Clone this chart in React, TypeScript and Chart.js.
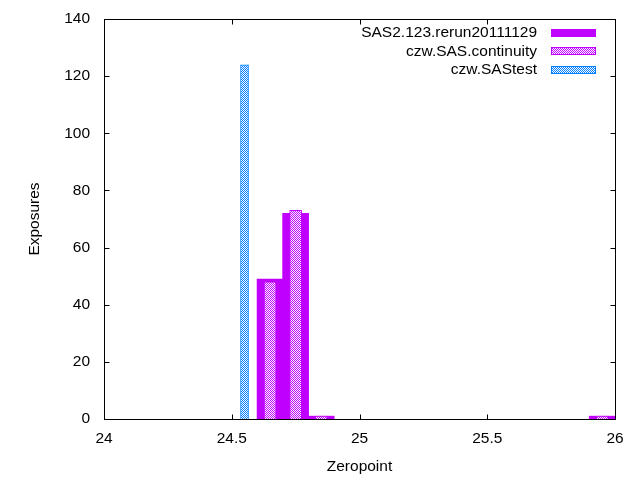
import React, { useEffect, useRef } from 'react';
import { Chart, registerables } from 'chart.js';

Chart.register(...registerables);

// histogram bins (bin centres) and counts
const rerunBins = [24.65, 24.75, 24.85, 25.95];
const rerunCounts = [49, 72, 1, 1];
const continuityBins = [24.65, 24.75, 24.85, 25.95];
const continuityCounts = [48, 73, 1, 1];
const testBins = [24.55];
const testCounts = [124];

const seriesLabels = ['SAS2.123.rerun20111129', 'czw.SAS.continuity', 'czw.SAStest'];
const xTicks = [24, 24.5, 25, 25.5, 26];
const yTicks = [0, 20, 40, 60, 80, 100, 120, 140];

const PURPLE = '#c000ff';
const BLUE = '#0080ff';
const FONT = '"Liberation Sans", Arial, sans-serif';

function makePattern(color: string): CanvasPattern {
	const c = document.createElement('canvas');
	c.width = 4;
	c.height = 4;
	const ctx = c.getContext('2d')!;
	ctx.fillStyle = '#ffffff';
	ctx.fillRect(0, 0, 4, 4);
	ctx.fillStyle = color;
	for (let y = 0; y < 4; y++) {
		for (let x = 0; x < 4; x++) {
			if ((x + y) % 2 === 0) ctx.fillRect(x, y, 1, 1);
		}
	}
	return ctx.createPattern(c, 'repeat')!;
}

// gnuplot style box with inward mirrored ticks, and a key inside the top right corner
const gnuplotFrame = {
	id: 'gnuplotFrame',
	afterDraw(chart: any) {
		const { ctx, chartArea: a, scales } = chart;
		const L = a.left + 0.5;
		const R = a.right + 0.5;
		const T = a.top + 0.5;
		const B = a.bottom + 0.5;
		const tick = 5;
		ctx.save();
		ctx.strokeStyle = '#000';
		ctx.lineWidth = 1;
		ctx.beginPath();
		for (const v of xTicks) {
			const px = Math.round(scales.x.getPixelForValue(v)) + 0.5;
			ctx.moveTo(px, B);
			ctx.lineTo(px, B - tick);
			ctx.moveTo(px, T);
			ctx.lineTo(px, T + tick);
		}
		for (const v of yTicks) {
			const py = Math.round(scales.y.getPixelForValue(v)) + 0.5;
			ctx.moveTo(L, py);
			ctx.lineTo(L + tick, py);
			ctx.moveTo(R, py);
			ctx.lineTo(R - tick, py);
		}
		ctx.stroke();
		ctx.strokeRect(L, T, R - L, B - T);

		// key
		ctx.font = '15.5px ' + FONT;
		ctx.textAlign = 'right';
		ctx.textBaseline = 'middle';
		chart.data.datasets.forEach((ds: any, i: number) => {
			const cy = 32.5 + i * 18.8;
			ctx.fillStyle = '#000';
			ctx.fillText(ds.label, 537, cy);
			ctx.fillStyle = ds.backgroundColor;
			ctx.fillRect(551, Math.round(cy - 4), 45, 8);
			if (ds.borderWidth) {
				ctx.strokeStyle = ds.borderColor;
				ctx.strokeRect(551.5, Math.round(cy - 4) + 0.5, 44, 7);
			}
		});
		ctx.restore();
	},
};

export default function App() {
	const canvasRef = useRef<HTMLCanvasElement>(null);
	const chartRef = useRef<Chart | null>(null);

	useEffect(() => {
		if (!canvasRef.current) return;
		document.body.style.margin = '0';

		if (chartRef.current) {
			chartRef.current.destroy();
		}

		const toPoints = (xs: number[], ys: number[]) => xs.map((x, i) => ({ x, y: ys[i] }));

		chartRef.current = new Chart(canvasRef.current, {
			type: 'bar',
			data: {
				datasets: [
					{
						label: seriesLabels[0],
						data: toPoints(rerunBins, rerunCounts),
						backgroundColor: PURPLE,
						borderWidth: 0,
						barThickness: 26,
						grouped: false,
						order: 2,
					},
					{
						label: seriesLabels[1],
						data: toPoints(continuityBins, continuityCounts),
						backgroundColor: makePattern(PURPLE),
						borderColor: PURPLE,
						borderWidth: 1,
						barThickness: 12,
						grouped: false,
						order: 1,
					},
					{
						label: seriesLabels[2],
						data: toPoints(testBins, testCounts),
						backgroundColor: makePattern(BLUE),
						borderColor: BLUE,
						borderWidth: 1,
						barThickness: 8,
						grouped: false,
						order: 0,
					},
				] as any,
			},
			options: {
				responsive: false,
				animation: false,
				devicePixelRatio: 1,
				layout: { padding: { top: 19, right: 25, left: 0, bottom: 0 } },
				plugins: {
					legend: { display: false },
					tooltip: { enabled: false },
				},
				scales: {
					x: {
						type: 'linear',
						min: 24,
						max: 26,
						offset: false,
						grid: { display: false, drawTicks: false, offset: false },
						border: { display: false },
						afterBuildTicks: (scale: any) => {
							scale.ticks = xTicks.map((value) => ({ value }));
						},
						afterFit: (scale: any) => {
							scale.height = 61;
							scale.paddingLeft = 0;
							scale.paddingRight = 0;
						},
						ticks: {
							color: '#000',
							padding: 10,
							maxRotation: 0,
							callback: (v: any) => String(v),
							font: { family: FONT, size: 15.5 },
						},
						title: {
							display: true,
							text: 'Zeropoint',
							color: '#000',
							padding: { top: 0, bottom: 4 },
							font: { family: FONT, size: 15.5 },
						},
					},
					y: {
						min: 0,
						max: 140,
						grid: { display: false, drawTicks: false },
						border: { display: false },
						afterBuildTicks: (scale: any) => {
							scale.ticks = yTicks.map((value) => ({ value }));
						},
						afterFit: (scale: any) => {
							scale.width = 104;
							scale.paddingTop = 0;
							scale.paddingBottom = 0;
						},
						ticks: {
							color: '#000',
							padding: 14,
							callback: (v: any) => String(v),
							font: { family: FONT, size: 15.5 },
						},
						title: {
							display: true,
							text: 'Exposures',
							color: '#000',
							padding: { top: 25, bottom: 0 },
							font: { family: FONT, size: 15.5 },
						},
					},
				},
			},
			plugins: [gnuplotFrame],
		});

		return () => {
			if (chartRef.current) {
				chartRef.current.destroy();
				chartRef.current = null;
			}
		};
	}, []);

	return <canvas ref={canvasRef} width={640} height={480} style={{ display: 'block' }} />;
}
